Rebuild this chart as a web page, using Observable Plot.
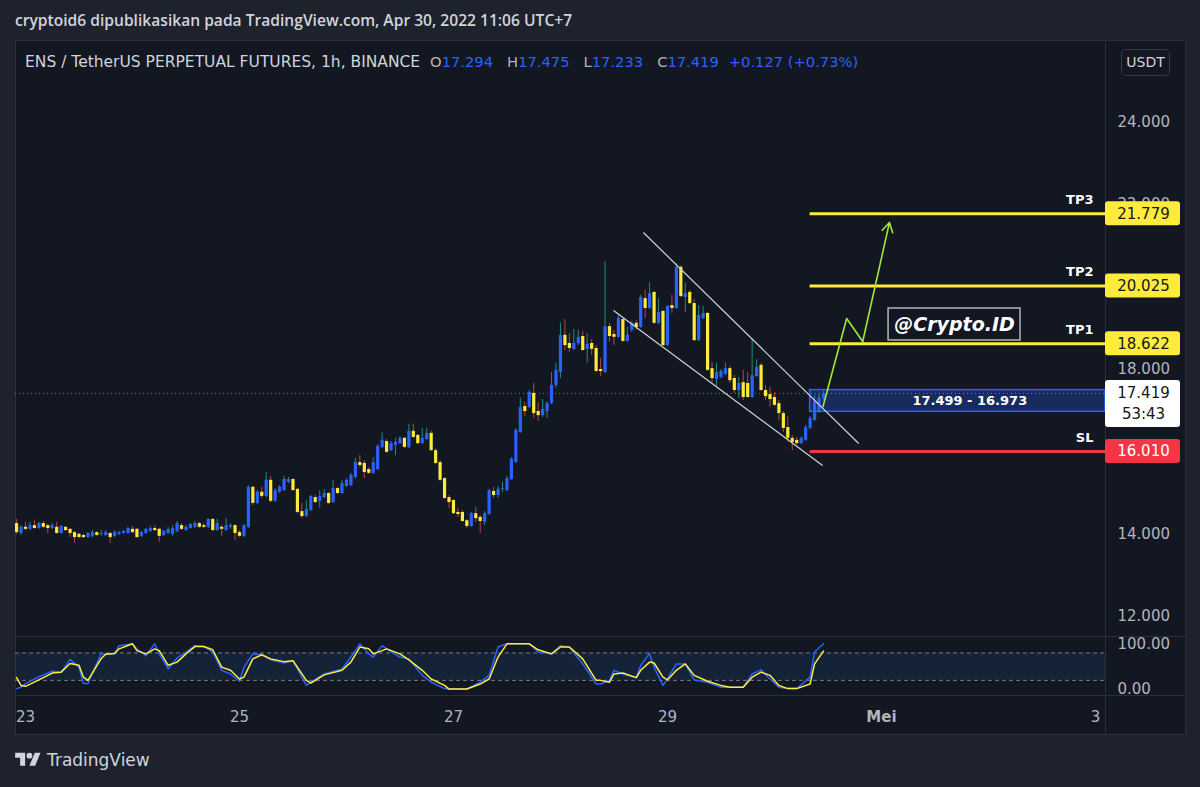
<!DOCTYPE html>
<html><head><meta charset="utf-8">
<script src="https://cdn.jsdelivr.net/npm/d3@7"></script>
<script src="https://cdn.jsdelivr.net/npm/@observablehq/plot@0.6"></script>
<style>
html,body{margin:0;padding:0;background:#1e222d;}
#root{position:relative;width:1200px;height:787px;overflow:hidden;background:#1e222d;font-family:"DejaVu Sans",sans-serif;}
.abs{position:absolute;}
.sep{position:absolute;background:#2a2e39;}
.hv{color:#2962ff;}
.hs{font-size:14.7px;}
</style></head><body>
<div id="root">
  <div class="abs" id="title" style="left:15px;top:9px;color:#d1d4dc;font:600 15.6px 'Open Sans';white-space:nowrap;"></div>
  <div class="abs" style="left:15px;top:40px;width:1171px;height:695px;background:#131722;border:1px solid #2a2e39;box-sizing:border-box;"></div>
  <div class="sep" style="left:1105px;top:40px;width:1px;height:695px;"></div>
  <div class="sep" style="left:15px;top:636px;width:1171px;height:1px;"></div>
  <div class="sep" style="left:15px;top:695px;width:1171px;height:1px;"></div>
  <div class="abs" id="main" style="left:0;top:0;"></div>
  <div class="abs" id="stoch" style="left:0;top:636px;"></div>
  <div class="abs" id="header" style="left:25px;top:53px;color:#b2b5be;font:15.5px 'DejaVu Sans';white-space:pre;"></div>
  <div class="abs" style="left:1121px;top:49px;width:49px;height:27px;border:1px solid #363a45;border-radius:5px;color:#d1d4dc;font:14px 'DejaVu Sans';text-align:center;line-height:25px;box-sizing:border-box;">USDT</div>
  <div class="abs" style="left:15px;top:750px;display:flex;align-items:center;gap:6px;color:#d1d4dc;font:17px 'DejaVu Sans';">
    <svg width="26" height="20" viewBox="0 0 36 28"><path fill="#d1d4dc" d="M14 22H7V11H0V4h14v18zM28 22h-8l7.5-18h8L28 22z"/><circle fill="#d1d4dc" cx="20" cy="8" r="4"/></svg>
    <span>TradingView</span>
  </div>
</div>
<script>
// ---------------- data ----------------
const titleText = "cryptoid6 dipublikasikan pada TradingView.com, Apr 30, 2022 11:06 UTC+7";
const symbolText = "ENS / TetherUS PERPETUAL FUTURES, 1h, BINANCE";
const changeText = "+0.127 (+0.73%)";
const countdownText = "53:43";

// hours since 23 Apr 00:00 (UTC+7) of the first candle
const firstHour = -2;
const opens = [
14.26,14.02,14.17,14.12,14.21,14.14,14.26,14.21,14.14,14.17,
14.02,14.17,14.12,14.04,14.00,13.97,13.92,13.95,14.04,14.00,
13.97,14.02,13.95,14.00,14.02,14.02,14.12,14.12,13.95,14.02,
14.07,14.14,14.12,13.97,14.02,14.00,14.07,14.21,14.09,14.14,
14.17,14.26,14.21,14.17,14.36,14.09,14.17,14.09,14.17,14.21,
14.04,13.95,14.17,15.14,14.75,15.02,14.92,15.31,14.80,15.02,
15.06,15.26,15.33,15.09,14.55,14.43,14.58,14.89,14.80,14.89,
14.99,14.77,15.11,14.99,15.16,15.18,15.38,15.74,15.72,15.57,
15.48,15.57,16.11,16.25,16.03,16.16,16.20,16.33,16.11,16.50,
16.40,16.20,16.30,16.45,16.03,15.74,15.35,14.89,14.82,14.53,
14.53,14.33,14.19,14.50,14.41,14.29,14.48,15.04,14.94,15.09,
15.06,15.33,15.74,16.47,17.10,17.08,17.42,16.98,16.88,16.98,
17.17,17.61,17.93,18.83,18.63,18.49,18.63,18.80,18.49,18.63,
18.51,18.00,17.93,19.04,18.85,18.78,19.21,18.68,18.95,19.12,
19.02,19.72,19.48,19.87,19.12,19.41,18.58,19.55,19.48,20.48,
19.75,19.87,19.60,18.70,19.24,19.36,18.02,17.76,17.81,17.88,
18.02,17.78,17.49,17.68,17.66,17.32,17.83,18.10,17.49,17.39,
17.32,17.17,16.93,16.59,16.33,16.28,16.20,16.28,16.57,16.76,
16.96,17.294];
const highs = [
14.36,14.21,14.29,14.29,14.34,14.29,14.31,14.24,14.26,14.29,
14.21,14.19,14.14,14.07,14.02,14.00,14.04,14.09,14.07,14.09,
14.09,14.04,14.09,14.07,14.09,14.17,14.19,14.14,14.07,14.14,
14.19,14.21,14.14,14.09,14.17,14.21,14.31,14.26,14.21,14.26,
14.31,14.29,14.26,14.38,14.38,14.36,14.21,14.38,14.26,14.24,
14.09,14.24,15.18,15.16,15.06,15.14,15.50,15.40,15.11,15.18,
15.40,15.38,15.35,15.11,14.75,14.82,14.94,14.94,15.06,15.09,
15.02,15.31,15.14,15.31,15.35,15.48,15.84,15.91,15.79,15.62,
15.86,16.18,16.47,16.30,16.25,16.33,16.37,16.35,16.67,16.67,
16.42,16.57,16.57,16.50,16.08,15.79,15.38,14.94,14.84,14.63,
14.58,14.36,14.53,14.65,14.46,14.55,15.09,15.14,15.16,15.26,
15.40,15.86,16.57,17.30,17.20,17.49,17.66,17.20,17.27,17.22,
17.93,18.15,19.12,19.21,18.87,18.97,18.95,18.92,18.87,18.73,
18.58,18.27,20.62,19.12,18.95,19.31,19.24,19.02,19.17,19.19,
19.80,19.92,20.11,19.89,19.72,19.43,19.55,19.80,20.57,20.52,
20.09,19.92,19.70,19.55,19.53,19.38,18.17,18.15,18.00,18.15,
18.07,17.85,17.81,17.98,17.93,18.75,18.24,18.15,17.61,17.56,
17.44,17.25,16.98,16.86,16.40,16.35,16.37,16.64,16.86,17.37,
17.42,17.475];
const lows = [
14.00,13.97,14.09,14.09,14.12,14.12,14.14,14.02,14.12,14.00,
14.00,14.07,13.92,13.78,13.90,13.90,13.90,13.92,13.95,13.95,
13.95,13.78,13.92,13.97,14.00,14.00,14.02,13.90,13.92,14.00,
14.04,14.07,13.80,13.95,14.00,13.95,14.04,14.09,14.07,14.12,
14.14,14.14,14.14,14.14,14.07,14.07,13.95,14.07,14.12,13.85,
13.92,13.92,14.14,14.70,14.72,14.87,14.89,14.77,14.77,14.99,
15.04,15.23,15.04,14.50,14.38,14.41,14.55,14.75,14.63,14.87,
14.72,14.75,14.97,14.97,15.14,15.16,15.35,15.62,15.35,15.45,
15.45,15.55,16.08,15.96,16.01,15.91,16.18,16.08,16.08,16.33,
16.18,16.18,16.28,16.01,15.69,15.28,14.84,14.63,14.48,14.41,
14.29,14.14,14.17,14.29,14.02,14.21,14.46,14.87,14.87,15.02,
15.04,15.31,15.72,16.45,16.86,17.05,16.81,16.74,16.83,16.81,
17.15,17.54,17.78,18.46,18.41,18.46,18.58,18.44,18.15,18.34,
17.93,17.83,17.90,18.66,18.58,18.75,18.66,18.66,18.90,18.95,
19.00,19.24,19.46,19.09,19.09,18.56,18.56,19.36,19.46,19.75,
19.38,19.58,18.68,18.68,19.21,17.95,17.68,17.56,17.78,17.85,
17.66,17.42,17.30,17.25,17.30,17.30,17.81,17.47,17.25,17.08,
17.10,16.76,16.47,16.23,16.03,16.16,16.18,16.25,16.54,16.74,
16.93,17.233];
const closes = [
14.04,14.17,14.12,14.21,14.14,14.26,14.17,14.14,14.21,14.02,
14.19,14.09,14.02,13.92,13.92,13.92,14.02,14.04,13.97,14.02,
14.04,13.92,14.04,14.04,14.07,14.14,14.04,13.92,14.04,14.12,
14.14,14.09,13.95,14.07,14.12,14.14,14.26,14.12,14.17,14.24,
14.26,14.17,14.17,14.36,14.09,14.26,14.12,14.21,14.21,14.02,
13.95,14.21,15.14,14.75,15.02,14.92,15.31,14.80,15.06,15.14,
15.33,15.33,15.06,14.53,14.43,14.60,14.92,14.77,14.92,14.99,
14.75,15.11,14.99,15.23,15.31,15.43,15.74,15.67,15.50,15.48,
15.74,16.13,16.28,15.99,16.20,16.23,16.33,16.11,16.50,16.35,
16.20,16.33,16.45,16.03,15.72,15.31,14.87,14.77,14.50,14.48,
14.31,14.19,14.50,14.38,14.31,14.50,15.06,14.94,15.09,15.11,
15.35,15.82,16.52,17.08,16.98,17.44,16.93,16.88,17.03,17.17,
17.61,17.98,18.83,18.58,18.51,18.63,18.78,18.46,18.61,18.49,
17.95,17.95,19.04,18.80,18.78,19.24,18.68,18.83,19.12,19.02,
19.75,19.48,19.84,19.12,19.38,18.58,19.53,19.48,20.48,19.77,
19.84,19.60,18.70,19.31,19.36,17.98,17.78,17.93,17.95,18.02,
17.73,17.49,17.66,17.32,17.32,17.85,18.05,17.49,17.34,17.27,
17.13,16.93,16.57,16.33,16.23,16.20,16.33,16.59,16.81,17.22,
17.30,17.419];

// Stoch RSI (%K blue, %D yellow), read at these candle hours
const stochHours = [-2,-1,0,3,6,8,10,12,13,14,17,18,20,21,24,25,27,29,30,32,34,36,38,40,42,44,46,48,49,51,53,55,58,60,63,64,67,71,73,75,77,78,80,81,84,86,89,91,94,95,97,99,102,104,106,108,113,115,118,120,122,125,128,129,131,132,134,137,138,140,141,143,144,146,148,150,153,156,158,161,163,165,167,169,171,173,176,177,179];
const stochK = [2,5,13,28,40,38,66,49,13,13,79,77,79,96,100,89,74,100,78,45,69,82,96,94,82,42,34,18,49,78,76,65,58,63,9,16,34,45,71,100,78,71,96,89,71,67,31,16,2,1,1,1,16,31,93,100,100,82,78,96,93,56,12,12,20,42,34,26,53,79,49,9,23,56,56,21,16,5,5,5,34,43,23,5,2,2,27,82,100];
const stochD = [26,9,7,21,36,38,57,53,27,20,68,77,79,89,100,85,78,89,85,53,60,78,94,94,87,49,42,23,27,67,76,67,61,63,20,14,32,42,60,93,89,78,85,89,78,65,42,23,9,1,1,1,12,23,71,100,100,87,78,93,93,67,20,20,16,34,36,26,42,60,58,27,21,42,56,31,18,9,5,5,27,38,31,9,2,2,12,56,84];
const stochBandLevels = [20, 80];
const stochTicks = [0, 100];

// axes
const priceTicks = [12, 14, 16, 18, 20, 22, 24];
const xTickHours = [0, 48, 96, 144, 192, 240];
const xTickLabels = ["23", "25", "27", "29", "Mei", "3"];
const monthLabel = "Mei";
const xDomain = [-2.24, 242.26];
const priceDomain = [11.519, 25.985];
const stochDomain = [-13.1, 116];

// drawings
const targetNames = ["TP3", "TP2", "TP1"];
const targetPrices = [21.779, 20.025, 18.622];
const stopName = "SL";
const stopPrice = 16.010;
const levelStartHour = 176;
const zoneHigh = 17.499, zoneLow = 16.973;
const channelHours = [[138.6, 186.9], [131.9, 178.8]];
const channelPrices = [[21.325, 16.204], [19.432, 15.670]];
const pathHours = [178.9, 184.2, 187.8, 193.8];
const pathPrices = [17.10, 19.238, 18.68, 21.568];
const brandText = "@Crypto.ID";
const brandHours = [193.6, 223.2];
const brandPrices = [18.704, 19.481];

// colors
const UP = "#2962ff", DOWN = "#ffeb3b", WICK_UP = "#1f8c80", WICK_DOWN = "#b5463f";
const TP_COLOR = "#ffeb3b", SL_COLOR = "#f23645", GREEN = "#a3e635";

// ---------------- html text ----------------
document.getElementById("title").textContent = titleText;
const last = opens.length - 1;
const f3 = d3.format(".3f");
document.getElementById("header").innerHTML =
  `<span style="color:#d1d4dc">${symbolText}</span>` +
  `<span class="hs" style="margin-left:10px">O</span><span class="hv hs">${f3(opens[last])}</span>` +
  `<span class="hs" style="margin-left:14px">H</span><span class="hv hs">${f3(highs[last])}</span>` +
  `<span class="hs" style="margin-left:14px">L</span><span class="hv hs">${f3(lows[last])}</span>` +
  `<span class="hs" style="margin-left:14px">C</span><span class="hv hs">${f3(closes[last])}</span>` +
  `<span class="hv hs" style="margin-left:10px">${changeText}</span>`;

// ---------------- tables ----------------
const candles = opens.map((o, i) => ({
  t: firstHour + i, open: o, high: highs[i], low: lows[i], close: closes[i],
  up: closes[i] >= o
}));
const targets = targetNames.map((n, i) => ({name: n, price: targetPrices[i]}));
const levels = [...targets, {name: stopName, price: stopPrice}];
const channels = channelHours.map((h, i) => ({x1: h[0], x2: h[1], y1: channelPrices[i][0], y2: channelPrices[i][1]}));
const path = pathHours.map((h, i) => ({x: h, y: pathPrices[i]}));
const pathLine = path.slice(0, 3);
const pathArrow = [{x1: path[2].x, y1: path[2].y, x2: path[3].x, y2: path[3].y}];
const lastClose = closes[last];
const xMax = xDomain[1];
const boxes = [
  ...targets.map(d => ({price: d.price, fill: TP_COLOR, text: "#131722"})),
  {price: stopPrice, fill: SL_COLOR, text: "#ffffff"}
];
const stoch = stochHours.map((h, i) => ({t: h, k: stochK[i], d: stochD[i]}));

// ---------------- main pane ----------------
const main = Plot.plot({
  width: 1200, height: 636,
  marginTop: 40, marginBottom: 0, marginLeft: 15, marginRight: 95,
  x: {domain: xDomain, axis: null},
  y: {domain: priceDomain, axis: null},
  color: {type: "identity"},
  style: {background: "transparent", fontFamily: "DejaVu Sans", overflow: "visible"},
  marks: [
    Plot.axisY({anchor: "right", ticks: priceTicks, tickFormat: f3, tickSize: 0, tickPadding: 12, fontSize: 15, fill: "#b2b5be", label: null}),
    // zone
    Plot.rect([0], {x1: levelStartHour, x2: xMax, y1: zoneLow, y2: zoneHigh, fill: UP, fillOpacity: 0.28, stroke: UP, strokeWidth: 1.5}),
    Plot.ruleY([lastClose], {stroke: "#787b86", strokeDasharray: "1,3", strokeWidth: 1}),
    Plot.text([0], {x: (levelStartHour + xMax) / 2, y: (zoneLow + zoneHigh) / 2, text: [`${f3(zoneHigh)} - ${f3(zoneLow)}`], dx: 12, fill: "#ffffff", fontWeight: "bold", fontSize: 13}),
    // candles
    Plot.ruleX(candles, {x: "t", y1: "low", y2: "high", stroke: d => d.up ? WICK_UP : WICK_DOWN, strokeWidth: 1}),
    Plot.ruleX(candles, {x: "t", y1: "open", y2: "close", stroke: d => d.up ? UP : DOWN, strokeWidth: 3.2}),
    // channel
    Plot.link(channels, {x1: "x1", y1: "y1", x2: "x2", y2: "y2", stroke: "#d1d4dc", strokeWidth: 1.2}),
    // target / stop lines
    Plot.ruleY(targets, {y: "price", x1: levelStartHour, x2: xMax, stroke: TP_COLOR, strokeWidth: 3}),
    Plot.ruleY([stopPrice], {x1: levelStartHour, x2: xMax, stroke: SL_COLOR, strokeWidth: 3}),
    Plot.text(levels, {x: xMax, y: "price", text: "name", dx: -12, dy: -14, textAnchor: "end", fill: "#ffffff", fontWeight: "bold", fontSize: 13}),
    // projected path
    Plot.line(pathLine, {x: "x", y: "y", stroke: GREEN, strokeWidth: 1.6}),
    Plot.arrow(pathArrow, {x1: "x1", y1: "y1", x2: "x2", y2: "y2", stroke: GREEN, strokeWidth: 1.6, headLength: 10, bend: 0}),
    // brand box
    Plot.rect([0], {x1: brandHours[0], x2: brandHours[1], y1: brandPrices[0], y2: brandPrices[1], fill: "#131722", stroke: "#b2b5be", strokeWidth: 1.5}),
    Plot.text([brandText], {x: (brandHours[0] + brandHours[1]) / 2, y: (brandPrices[0] + brandPrices[1]) / 2, text: d => d, fill: "#ffffff", fontWeight: "bold", fontStyle: "italic", fontSize: 19}),
    // price-scale labels
    Plot.rect(boxes, {x1: xMax, x2: xMax, y1: "price", y2: "price", insetLeft: 0, insetRight: -75, insetTop: -12, insetBottom: -12, fill: "fill", rx: 3}),
    Plot.text(boxes, {x: xMax, y: "price", text: d => f3(d.price), dx: 38, fill: "text", fontSize: 15}),
    Plot.rect([lastClose], {x1: xMax, x2: xMax, y1: d => d, y2: d => d, insetRight: -75, insetTop: -13, insetBottom: -34, fill: "#ffffff", rx: 3}),
    Plot.text([lastClose], {x: xMax, y: d => d, text: d => f3(d), dx: 38, fill: "#131722", fontSize: 15}),
    Plot.text([lastClose], {x: xMax, y: d => d, text: [countdownText], dx: 38, dy: 21, fill: "#131722", fontSize: 15})
  ]
});
document.getElementById("main").appendChild(main);

// ---------------- stoch pane ----------------
const xTicks = xTickHours.map((h, i) => ({h, label: xTickLabels[i]}));
const sp = Plot.plot({
  width: 1200, height: 99,
  marginTop: 0, marginBottom: 40, marginLeft: 15, marginRight: 95,
  x: {domain: xDomain, axis: null},
  y: {domain: stochDomain, axis: null},
  style: {background: "transparent", fontFamily: "DejaVu Sans", overflow: "visible"},
  marks: [
    Plot.rect([0], {x1: xDomain[0], x2: xDomain[1], y1: stochBandLevels[0], y2: stochBandLevels[1], fill: "#2196f3", fillOpacity: 0.1}),
    Plot.ruleY(stochBandLevels, {stroke: "#787b86", strokeDasharray: "4,3", strokeWidth: 1}),
    Plot.line(stoch, {x: "t", y: "k", stroke: UP, strokeWidth: 1.5}),
    Plot.line(stoch, {x: "t", y: "d", stroke: DOWN, strokeWidth: 1.5}),
    Plot.axisY({anchor: "right", ticks: stochTicks, tickFormat: d3.format(".2f"), tickSize: 0, tickPadding: 12, fontSize: 15, fill: "#b2b5be", label: null}),
    Plot.text(xTicks.filter(d => d.label !== monthLabel), {x: "h", text: "label", frameAnchor: "bottom", dy: 26, fill: "#b2b5be", fontSize: 15}),
    Plot.text(xTicks.filter(d => d.label === monthLabel), {x: "h", text: "label", frameAnchor: "bottom", dy: 26, fill: "#b2b5be", fontSize: 15, fontWeight: "bold"})
  ]
});
document.getElementById("stoch").appendChild(sp);
</script>
</body></html>
